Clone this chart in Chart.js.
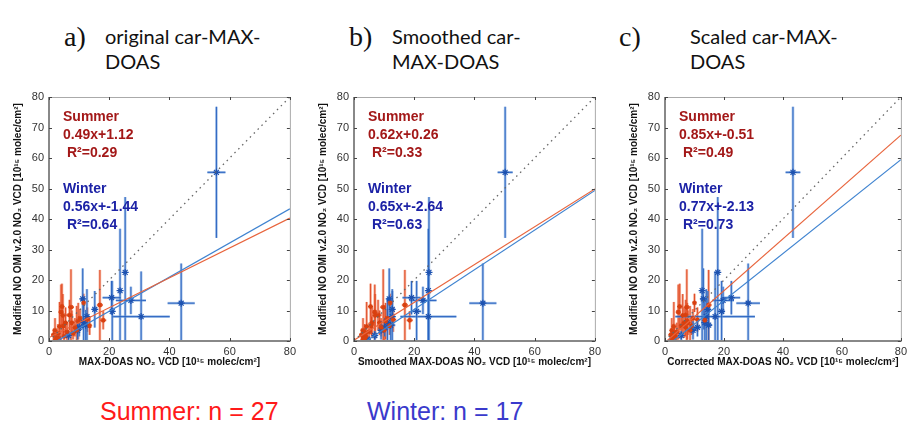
<!DOCTYPE html>
<html>
<head>
<meta charset="utf-8">
<script src="https://cdn.jsdelivr.net/npm/chart.js@4.4.0/dist/chart.umd.min.js"></script>
<style>
  body { margin: 0; width: 911px; height: 428px; background: #fff; position: relative; overflow: hidden; }
  canvas { position: absolute; top: 85px; }
  .lbl { position: absolute; font-family: 'Liberation Serif', serif; font-size: 28px; color: #111; line-height: 30px; }
  .ttl { position: absolute; font-family: 'Lato', sans-serif; font-size: 20px; line-height: 25px; color: #111; }
  .n { position: absolute; top: 396px; font-family: 'Liberation Sans', sans-serif; font-size: 25px; line-height: 30px; }
</style>
</head>
<body>
<div class="lbl" style="left:64px;top:22px">a)</div>
<div class="ttl" style="left:105px;top:24px">original car-MAX-<br>DOAS</div>
<div class="lbl" style="left:349px;top:22px">b)</div>
<div class="ttl" style="left:392px;top:24px">Smoothed car-<br>MAX-DOAS</div>
<div class="lbl" style="left:619px;top:22px">c)</div>
<div class="ttl" style="left:690px;top:24px">Scaled car-MAX-<br>DOAS</div>

<canvas id="panelA" width="300" height="290" style="left:0px"></canvas>
<canvas id="panelB" width="300" height="290" style="left:305px"></canvas>
<canvas id="panelC" width="295" height="290" style="left:616px"></canvas>

<div class="n" style="left:100px;color:#ff1a1a">Summer: n = 27</div>
<div class="n" style="left:367px;color:#3a3acc">Winter: n = 17</div>

<script>
// OMI values are the same in all three panels, only the car MAX-DOAS values move
const summerY    = [2.0, 3.5, 1.0, 2.5, 4.8, 9.5, 11.3, 8.4, 1.5, 6.0, 3.0, 8.5, 11.1, 6.0, 2.5, 3.5, 6.5, 7.5, 12.5, 7.0, 5.0, 11.8, 6.8, 0.5, 0.8, 5.0, 4.5];
const summerYErr = [2, 4, 1.5, 3, 8, 9, 7.5, 7, 2, 5, 3, 5, 12.4, 4, 2, 8, 6, 3, 3, 4, 3, 11.5, 3, 0.5, 1, 3, 3];
const winterY    = [55.3, 12.4, 22.5, 16.5, 13.3, 8.0, 9.7, 14.2, 10.4, 13.8, 8.0, 6.0, 5.2, 4.5, 3.5, 1.8, 0.6];
const winterYErr = [21.5, 13, 24.7, 20.3, 4.5, 14.8, 10, 5.5, 6, 10, 9, 8, 5, 3, 3, 1.5, 0.8];

// x values: original / smoothed / scaled car-MAX-DOAS
const summerXOrig   = [1.5, 2.0, 2.5, 3.0, 3.5, 4.0, 4.3, 4.6, 5.0, 5.5, 6.0, 6.8, 7.3, 7.6, 8.0, 9.2, 9.7, 10.3, 11.5, 12.7, 13.5, 16.9, 18.0, 2.2, 3.2, 4.8, 8.6];
const summerXSmooth = [2.5, 3.0, 3.2, 3.5, 4.2, 6.9, 5.5, 7.0, 4.0, 6.0, 5.0, 8.0, 9.7, 8.5, 3.8, 10.0, 10.5, 11.0, 12.0, 13.0, 11.8, 16.9, 18.5, 3.0, 3.6, 5.8, 9.0];
const summerXScaled = [2.0, 2.3, 2.5, 2.8, 3.0, 4.5, 5.0, 6.0, 3.5, 6.5, 4.0, 7.0, 7.4, 7.8, 3.2, 8.5, 7.5, 9.5, 10.0, 11.0, 9.0, 14.8, 13.5, 2.5, 2.7, 5.5, 7.0];
const summerXErr    = [0.8, 0.5, 0.5, 0.8, 0.5, 0.8, 0.8, 0.5, 0.6, 0.5, 1, 1.2, 1, 0.8, 0.5, 0.8, 1, 0.5, 0.5, 1, 0.5, 1, 1, 0.5, 0.5, 0.5, 0.6];

const winterXOrig      = [55.6, 43.9, 25.3, 23.6, 27.2, 30.6, 21.0, 20.8, 15.2, 11.2, 12.6, 11.5, 12.2, 10.0, 9.5, 6.5, 3.0];
const winterXErrOrig   = [3, 4.5, 0.5, 0.5, 5, 9.5, 0.8, 3, 0.8, 0.8, 1, 1, 1.5, 1.5, 1, 1, 0.5];
const winterXSmooth    = [50.2, 42.8, 24.9, 24.7, 22.9, 24.7, 20.8, 19.1, 12.7, 11.7, 12.7, 11.1, 12.2, 10.2, 9.0, 6.9, 4.5];
const winterXErrSmooth = [2.5, 4.5, 0.5, 0.5, 4.5, 9.3, 1.5, 3, 0.8, 0.8, 1, 1, 1.5, 1.5, 1, 1, 0.5];
const winterXScaled    = [43.4, 28.2, 17.9, 12.6, 19.7, 17.0, 19.2, 22.5, 14.5, 13.0, 14.0, 13.5, 14.8, 11.0, 9.5, 5.5, 2.5];
const winterXErrScaled = [2.5, 4, 0.5, 0.5, 3.7, 13.5, 1, 3, 1, 1, 1, 1, 1.2, 1.2, 1, 1, 0.5];

// regression results [slope, intercept] and R^2 per panel
const summerFit = [[0.49, 1.12], [0.62, 0.26], [0.85, -0.51]];
const winterFit = [[0.56, -1.44], [0.65, -2.64], [0.77, -2.13]];
const summerR2 = [0.29, 0.33, 0.49];
const winterR2 = [0.64, 0.63, 0.73];

const xTitles = [
  'MAX-DOAS NO\u2082 VCD [10\u00b9\u2075 molec/cm\u00b2]',
  'Smoothed MAX-DOAS NO\u2082 VCD [10\u00b9\u2075 molec/cm\u00b2]',
  'Corrected MAX-DOAS NO\u2082 VCD [10\u00b9\u2075 molec/cm\u00b2]'
];
const yTitle = 'Modified NO OMI v.2.0 NO\u2082 VCD [10\u00b9\u2075 molec/cm\u00b2]';

function fitLine(f) {
  return [{x: 0, y: f[1]}, {x: 80, y: f[0] * 80 + f[1]}];
}

function fmtFit(f) {
  return f[0].toFixed(2) + 'x+' + f[1].toFixed(2);
}

// error bars drawn under the markers
const errorBars = {
  id: 'errorBars',
  beforeDatasetsDraw(chart, args, opts) {
    const {ctx, chartArea, scales: {x, y}} = chart;
    ctx.save();
    ctx.beginPath();
    ctx.rect(chartArea.left, chartArea.top, chartArea.width, chartArea.height);
    ctx.clip();
    const seg = (a, b, c, d) => { ctx.beginPath(); ctx.moveTo(a, b); ctx.lineTo(c, d); ctx.stroke(); };
    opts.groups.forEach(g => {
      g.x.forEach((xv, i) => {
        const px = x.getPixelForValue(xv);
        const py = y.getPixelForValue(g.y[i]);
        const x0 = x.getPixelForValue(xv - g.xe[i]);
        const x1 = x.getPixelForValue(xv + g.xe[i]);
        const y0 = y.getPixelForValue(g.y[i] - g.ye[i]);
        const y1 = y.getPixelForValue(g.y[i] + g.ye[i]);
        ctx.strokeStyle = g.light;
        ctx.lineWidth = 2.6;
        seg(px, y0, px, y1);
        seg(x0, py, x1, py);
        ctx.strokeStyle = g.dark;
        ctx.lineWidth = 1;
        seg(px, y0, px, y1);
        seg(x0, py, x1, py);
      });
    });
    ctx.restore();
  }
};

// box, inward ticks and the regression text
const frame = {
  id: 'frame',
  afterDraw(chart, args, opts) {
    const {ctx, chartArea: a, scales: {x, y}} = chart;
    ctx.save();
    ctx.strokeStyle = '#aaa';
    ctx.lineWidth = 1;
    ctx.strokeRect(a.left + 0.5, a.top + 0.5, a.width, a.height);
    ctx.strokeStyle = '#888';
    ctx.lineWidth = 2;
    ctx.beginPath();
    ctx.moveTo(a.left, a.top);
    ctx.lineTo(a.left, a.bottom);
    ctx.lineTo(a.right, a.bottom);
    ctx.stroke();
    ctx.strokeStyle = '#444';
    ctx.lineWidth = 1;
    x.ticks.forEach(t => {
      const p = Math.round(x.getPixelForValue(t.value)) + 0.5;
      ctx.beginPath(); ctx.moveTo(p, a.bottom); ctx.lineTo(p, a.bottom - 3); ctx.stroke();
      ctx.beginPath(); ctx.moveTo(p, a.top); ctx.lineTo(p, a.top + 3); ctx.stroke();
    });
    y.ticks.forEach(t => {
      const p = Math.round(y.getPixelForValue(t.value)) + 0.5;
      ctx.beginPath(); ctx.moveTo(a.left, p); ctx.lineTo(a.left + 3, p); ctx.stroke();
      ctx.beginPath(); ctx.moveTo(a.right, p); ctx.lineTo(a.right - 3, p); ctx.stroke();
    });

    ctx.font = 'bold 14px "Liberation Sans", Arial, sans-serif';
    ctx.textBaseline = 'middle';
    ctx.fillStyle = '#a31818';
    ctx.fillText('Summer', a.left + 14, a.top + 20);
    ctx.fillText(fmtFit(opts.sFit), a.left + 14, a.top + 38);
    ctx.fillText('R\u00b2=' + opts.sR2.toFixed(2), a.left + 18, a.top + 56);
    ctx.fillStyle = '#1c22a6';
    ctx.fillText('Winter', a.left + 14, a.top + 92);
    ctx.fillText(fmtFit(opts.wFit), a.left + 14, a.top + 110);
    ctx.fillText('R\u00b2=' + opts.wR2.toFixed(2), a.left + 18, a.top + 128);
    ctx.restore();
  }
};

function makePanel(id, idx, sx, wx, wxe, rightPad) {
  const toPts = (xs, ys) => xs.map((v, i) => ({x: v, y: ys[i]}));
  new Chart(document.getElementById(id), {
    type: 'scatter',
    data: {
      datasets: [
        { data: [{x: 0, y: 0}, {x: 80, y: 80}], showLine: true, borderColor: '#666', borderDash: [1.5, 4], borderWidth: 1.3, pointRadius: 0 },
        { data: fitLine(summerFit[idx]), showLine: true, borderColor: '#e8643c', borderWidth: 1.2, pointRadius: 0 },
        { data: fitLine(winterFit[idx]), showLine: true, borderColor: '#3f83d0', borderWidth: 1.2, pointRadius: 0 },
        { data: toPts(sx, summerY), pointStyle: 'star', pointRadius: 2.5, borderColor: '#d8400f', borderWidth: 1.2 },
        { data: toPts(wx, winterY), pointStyle: 'star', pointRadius: 3.5, borderColor: '#1d52b0', borderWidth: 1.2 }
      ]
    },
    options: {
      responsive: false,
      animation: false,
      events: [],
      layout: { padding: { top: 12, right: rightPad, left: 0, bottom: 0 }, autoPadding: false },
      plugins: {
        legend: { display: false },
        tooltip: { enabled: false },
        errorBars: {
          groups: [
            { x: sx, y: summerY, xe: summerXErr, ye: summerYErr, light: 'rgba(238,110,70,0.55)', dark: 'rgba(220,60,20,0.85)' },
            { x: wx, y: winterY, xe: wxe, ye: winterYErr, light: 'rgba(100,150,215,0.6)', dark: 'rgba(30,90,190,0.9)' }
          ]
        },
        frame: { sFit: summerFit[idx], wFit: winterFit[idx], sR2: summerR2[idx], wR2: winterR2[idx] }
      },
      scales: {
        x: {
          type: 'linear', min: 0, max: 80,
          ticks: { stepSize: 20, padding: 4, color: '#333', font: { family: 'Liberation Sans', size: 11 } },
          grid: { display: false, drawTicks: false },
          border: { display: false },
          title: { display: true, text: xTitles[idx], color: '#111', font: { family: 'Liberation Sans', size: 10, weight: 'bold' }, padding: { top: 0, bottom: 7 } },
          afterFit: s => { s.height = 34; }
        },
        y: {
          type: 'linear', min: 0, max: 80,
          ticks: { stepSize: 10, padding: 5, color: '#333', font: { family: 'Liberation Sans', size: 11 } },
          grid: { display: false, drawTicks: false },
          border: { display: false },
          title: { display: true, text: yTitle, color: '#111', font: { family: 'Liberation Sans', size: 10, weight: 'bold' }, padding: { top: 12, bottom: 0 } },
          afterFit: s => { s.width = 49; }
        }
      }
    },
    plugins: [errorBars, frame]
  });
}

makePanel('panelA', 0, summerXOrig, winterXOrig, winterXErrOrig, 9);
makePanel('panelB', 1, summerXSmooth, winterXSmooth, winterXErrSmooth, 9);
makePanel('panelC', 2, summerXScaled, winterXScaled, winterXErrScaled, 3);
</script>
</body>
</html>
